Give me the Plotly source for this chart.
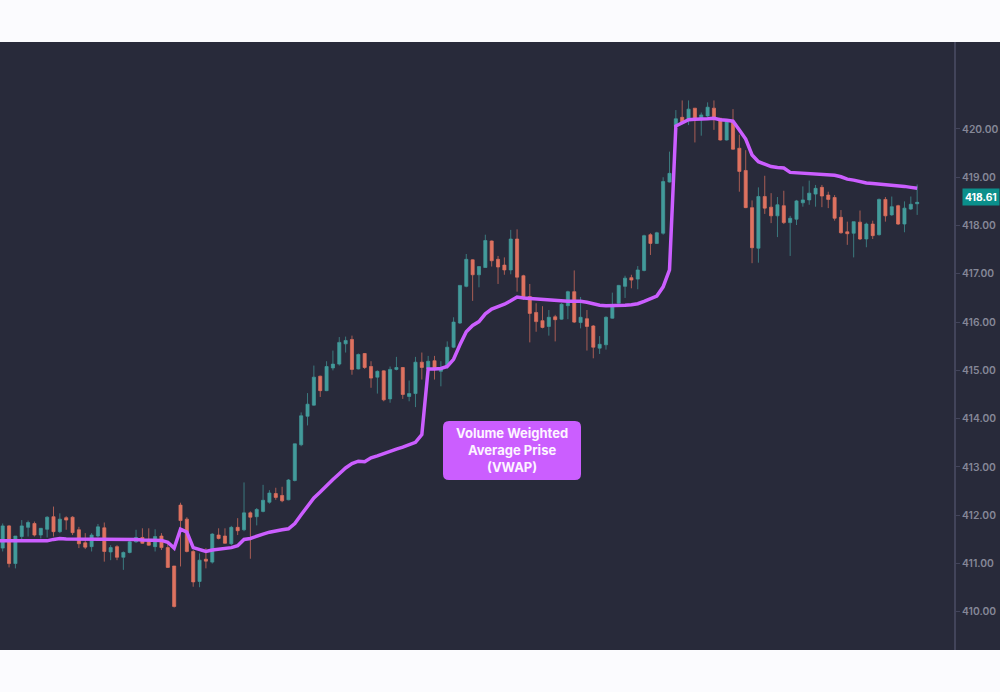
import plotly.graph_objects as go

# candles
opens = [411.32,411.78,411.00,411.56,411.75,411.83,411.59,411.71,411.97,411.66,
         411.95,411.96,411.70,411.43,411.35,411.57,411.74,411.24,411.35,411.13,
         411.23,411.45,411.54,411.50,411.35,411.57,411.33,410.95,412.21,411.92,
         411.25,410.63,411.09,411.03,411.59,411.57,411.41,411.75,411.70,412.05,
         411.97,412.08,412.27,412.45,412.41,412.32,412.72,413.46,414.05,414.28,
         414.88,414.58,415.05,415.13,415.55,415.64,415.03,415.35,415.08,414.86,
         414.99,414.41,415.02,415.06,414.46,414.52,415.17,415.03,415.20,414.98,
         415.08,415.48,415.98,416.74,417.29,416.98,417.13,417.68,417.30,417.18,
         417.08,417.72,416.96,416.53,416.20,416.03,415.91,416.11,416.06,416.34,
         416.63,415.99,416.07,415.92,415.46,415.53,416.08,416.39,416.74,416.92,
         416.89,417.07,417.81,417.63,417.84,418.90,420.05,420.24,420.19,420.43,
         420.19,420.27,420.43,420.22,419.77,420.15,419.60,419.14,418.37,417.53,
         418.60,418.38,418.20,418.41,418.06,418.13,418.47,418.53,418.65,418.79,
         418.63,418.58,418.17,417.87,417.84,418.07,417.72,418.03,417.81,418.54,
         418.22,418.41,418.03,418.34,418.45]
highs = [411.83,411.80,411.57,411.90,411.89,411.87,411.73,411.98,412.18,412.04,
         411.98,411.98,411.76,411.63,411.63,411.82,411.85,411.38,411.38,411.25,
         411.49,411.70,411.73,411.73,411.71,411.63,411.42,410.95,412.26,411.96,
         411.28,411.21,411.32,411.63,411.73,411.73,411.78,411.94,412.68,412.08,
         412.15,412.63,412.52,412.57,412.59,412.75,413.48,414.13,414.53,415.10,
         414.89,415.19,415.41,415.69,415.70,415.72,415.35,415.36,415.19,415.00,
         415.00,415.08,415.28,415.07,414.79,415.28,415.37,415.30,415.30,415.19,
         415.60,416.10,416.76,417.41,417.30,417.15,417.81,417.69,417.37,417.34,
         417.91,417.92,416.98,416.79,416.39,416.33,416.25,416.15,416.39,416.65,
         417.07,416.52,416.25,415.94,415.71,416.12,416.61,416.77,416.96,416.98,
         417.16,417.81,417.84,417.87,419.00,419.53,420.39,420.59,420.59,420.43,
         420.34,420.55,420.59,420.22,420.19,420.41,419.88,419.56,418.52,418.79,
         419.03,418.67,418.59,418.72,418.20,418.53,418.81,418.93,418.84,418.84,
         418.70,418.63,418.32,418.08,418.08,418.31,418.06,418.10,418.56,418.59,
         418.60,418.43,418.50,418.60,418.85]
lows = [411.25,410.92,410.90,411.45,411.56,411.56,411.52,411.54,411.56,411.63,
        411.70,411.59,411.32,411.30,411.25,411.54,411.04,411.07,411.07,410.87,
        411.21,411.43,411.41,411.37,411.25,411.28,410.91,410.09,410.94,411.23,
        410.52,410.51,410.90,411.00,411.50,411.41,411.38,411.59,411.67,411.10,
        411.79,412.06,412.24,412.32,412.27,412.31,412.70,413.43,413.86,414.27,
        414.45,414.57,415.00,415.10,415.37,414.91,415.02,415.03,414.64,414.52,
        414.36,414.33,415.00,414.41,414.36,414.24,414.81,415.02,414.81,414.67,
        415.03,415.46,415.96,416.72,416.44,416.72,417.13,417.15,416.79,416.98,
        416.99,416.63,416.46,415.58,415.80,415.87,415.72,415.60,416.05,416.06,
        415.98,415.87,415.41,415.25,415.34,415.43,416.07,416.38,416.50,416.70,
        416.68,417.05,417.39,417.62,417.81,418.89,420.01,420.10,420.08,419.72,
        419.86,420.24,419.98,419.76,419.76,419.57,418.70,418.36,417.22,417.23,
        418.24,418.05,417.76,418.03,417.37,418.01,418.39,418.43,418.39,418.38,
        418.36,418.10,417.83,417.60,417.34,417.70,417.55,417.72,417.79,418.08,
        418.20,418.01,417.86,418.32,418.22]
closes = [411.78,411.00,411.57,411.78,411.85,411.59,411.73,411.96,411.66,411.92,
          411.90,411.64,411.41,411.34,411.59,411.76,411.25,411.33,411.13,411.23,
          411.45,411.54,411.42,411.38,411.56,411.33,410.92,410.11,411.89,411.25,
          410.62,411.07,411.05,411.61,411.52,411.42,411.75,411.68,412.05,411.96,
          412.12,412.31,412.46,412.37,412.30,412.73,413.48,414.06,414.30,414.86,
          414.58,415.08,415.13,415.58,415.62,415.02,415.33,415.06,414.84,414.98,
          414.39,415.02,415.06,414.50,414.52,415.17,415.06,415.19,415.02,415.03,
          415.48,416.00,416.76,417.30,416.98,417.15,417.69,417.27,417.14,417.08,
          417.72,416.93,416.51,416.18,416.01,415.89,416.10,416.05,416.37,416.63,
          416.00,416.10,415.91,415.48,415.54,416.10,416.36,416.76,416.91,416.87,
          417.08,417.79,417.63,417.85,418.91,419.08,420.21,420.12,420.41,420.20,
          420.29,420.45,420.22,419.77,420.15,419.58,419.12,418.37,417.54,418.60,
          418.36,418.20,418.43,418.06,418.15,418.51,418.53,418.67,418.77,418.61,
          418.54,418.15,417.85,417.83,418.08,417.72,418.03,417.79,418.54,418.20,
          418.39,418.03,418.36,418.44,418.48]

# vwap line, one value per candle
vwap = [411.47,411.47,411.47,411.47,411.47,411.47,411.47,411.47,411.50,411.52,
        411.51,411.51,411.51,411.51,411.51,411.51,411.51,411.51,411.50,411.50,
        411.50,411.50,411.49,411.49,411.49,411.48,411.44,411.32,411.71,411.65,
        411.33,411.29,411.25,411.28,411.30,411.31,411.33,411.37,411.50,411.52,
        411.57,411.61,411.65,411.68,411.70,411.72,411.83,412.01,412.19,412.36,
        412.48,412.62,412.74,412.86,412.98,413.07,413.12,413.11,413.19,413.23,
        413.28,413.32,413.37,413.41,413.46,413.51,413.67,415.03,415.03,415.04,
        415.08,415.23,415.53,415.80,415.93,416.01,416.17,416.27,416.32,416.37,
        416.44,416.52,416.50,416.49,416.48,416.47,416.45,416.44,416.43,416.43,
        416.43,416.43,416.41,416.38,416.35,416.34,416.34,416.34,416.35,416.36,
        416.38,416.43,416.48,416.54,416.73,417.08,420.06,420.12,420.19,420.20,
        420.20,420.21,420.22,420.19,420.18,420.16,419.98,419.79,419.46,419.32,
        419.27,419.22,419.20,419.19,419.10,419.09,419.08,419.08,419.07,419.06,
        419.05,419.04,419.01,418.96,418.94,418.91,418.88,418.87,418.86,418.85,
        418.84,418.83,418.81,418.79,418.77]

candle_idx = list(range(len(closes)))
price_ticks = [410, 411, 412, 413, 414, 415, 416, 417, 418, 419, 420]
last_price = "418.61"
callout = "Volume Weighted<br>Average Prise<br>(VWAP)"

DARK = "#282a3a"
PURPLE = "#cb5eff"
GREEN = "#439b9b"
RED = "#de7260"
GREEN_WICK = "rgba(67,155,155,0.7)"
RED_WICK = "rgba(222,114,96,0.7)"


def px_x(p):
    return p / 1000


def px_y(p):
    return 1 - (p - 42) / 608


def rounded_box(x0, y0, x1, y1, r):
    # path in paper units, corners stretched so they stay round on screen
    rx = r / 1000
    ry = r / 608
    l, rt = px_x(x0), px_x(x1)
    t, b = px_y(y0), px_y(y1)
    return (f"M{l+rx},{t} L{rt-rx},{t} Q{rt},{t} {rt},{t-ry} L{rt},{b+ry} Q{rt},{b} {rt-rx},{b} "
            f"L{l+rx},{b} Q{l},{b} {l},{b+ry} L{l},{t-ry} Q{l},{t} {l+rx},{t} Z")


fig = go.Figure()
fig.add_candlestick(x=candle_idx, open=opens, high=highs, low=lows, close=closes,
                    whiskerwidth=0,
                    increasing=dict(line=dict(color=GREEN_WICK, width=1), fillcolor=GREEN),
                    decreasing=dict(line=dict(color=RED_WICK, width=1), fillcolor=RED),
                    hoverinfo="skip", showlegend=False)
fig.add_scatter(x=[-1] + candle_idx, y=vwap[:1] + vwap, mode="lines",
                line=dict(color=PURPLE, width=3.5), hoverinfo="skip", showlegend=False)

fig.update_layout(
    width=1000, height=692,
    margin=dict(l=0, r=0, t=42, b=42),
    paper_bgcolor="#fbfbfe",
    plot_bgcolor=DARK,
    showlegend=False,
    boxgap=0.3,
    xaxis=dict(domain=[0, 0.954], range=[-0.425, 149.8], visible=False,
               rangeslider=dict(visible=False), fixedrange=True),
    yaxis=dict(side="right", range=[409.21, 421.80], tickvals=price_ticks, tickformat=".2f",
               showgrid=False, zeroline=False, showline=True, linecolor="#42445a", linewidth=2,
               ticks="outside", ticklen=4, tickwidth=1, tickcolor="#42445a",
               tickfont=dict(family="Inter", size=10.3, color="#858797", weight=600),
               fixedrange=True),
    shapes=[
        dict(type="rect", xref="paper", yref="paper", x0=0, x1=1, y0=0, y1=1,
             fillcolor=DARK, line_width=0, layer="below"),
        dict(type="path", xref="paper", yref="paper", path=rounded_box(443, 421, 581, 480, 6),
             fillcolor=PURPLE, line_width=0),
    ],
    annotations=[
        dict(xref="paper", yref="paper", x=px_x(512), y=px_y(450), yanchor="middle", text=callout,
             showarrow=False, font=dict(family="Inter", size=13, color="#fdf5ff", weight=700),
             align="center"),
        dict(xref="paper", yref="paper", x=1, y=px_y(197.5), xanchor="right", yanchor="middle",
             text=last_price, showarrow=False,
             font=dict(family="Inter", size=10.3, color="white", weight=700),
             bgcolor="#0b8f8b", borderpad=2),
    ],
)

fig.write_html("out.html", config=dict(displayModeBar=False),
               post_script="document.body.style.margin='0';")
